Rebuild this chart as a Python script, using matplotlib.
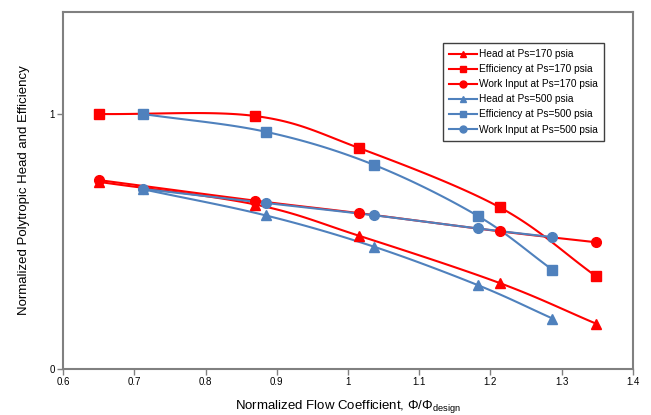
import numpy as np
import matplotlib
matplotlib.use('Agg')
from matplotlib import pyplot as plt

plt.rcParams['font.family'] = ['Liberation Sans', 'DejaVu Sans']
plt.rcParams['mathtext.fontset'] = 'custom'
plt.rcParams['mathtext.rm'] = 'Liberation Sans'
plt.rcParams['mathtext.it'] = 'Liberation Sans'

## DATA
# flow coefficient points for each suction pressure
flow_170 = [0.65, 0.87, 1.016, 1.213, 1.348]
flow_500 = [0.712, 0.885, 1.036, 1.183, 1.287]

head_170 = [0.734, 0.645, 0.522, 0.337, 0.178]
eff_170 = [1.0, 0.992, 0.866, 0.634, 0.364]
work_170 = [0.741, 0.660, 0.611, 0.540, 0.497]

head_500 = [0.705, 0.602, 0.480, 0.328, 0.198]
eff_500 = [1.0, 0.930, 0.801, 0.599, 0.389]
work_500 = [0.706, 0.651, 0.603, 0.551, 0.517]

RED = '#FF0000'
BLUE = '#4F81BD'


def smooth(x, y, n=30):
    """ Catmull-Rom curve through the points, like the smoothed lines of a spreadsheet chart. """
    x = np.asarray(x, float)
    y = np.asarray(y, float)
    # scale to the axes so the curve is not bent by the unit ratio
    px = (x - 0.6) / 0.8
    py = y / 1.4
    pts = np.column_stack([px, py])
    pts = np.vstack([pts[0] * 2 - pts[1], pts, pts[-1] * 2 - pts[-2]])
    out = []
    t = np.linspace(0, 1, n)[:, None]
    for i in range(1, len(pts) - 2):
        p0, p1, p2, p3 = pts[i - 1], pts[i], pts[i + 1], pts[i + 2]
        seg = 0.5 * ((2 * p1) + (-p0 + p2) * t + (2 * p0 - 5 * p1 + 4 * p2 - p3) * t ** 2
                     + (-p0 + 3 * p1 - 3 * p2 + p3) * t ** 3)
        out.append(seg if i == 1 else seg[1:])
    out = np.vstack(out)
    return out[:, 0] * 0.8 + 0.6, out[:, 1] * 1.4


fig = plt.figure(figsize=(6.51, 4.15), dpi=100)
ax = fig.add_axes([63 / 651, 46 / 415, 570 / 651, 357 / 415])

series = [
    (flow_170, head_170, RED, '^', 'Head at Ps=170 psia'),
    (flow_170, eff_170, RED, 's', 'Efficiency at Ps=170 psia'),
    (flow_170, work_170, RED, 'o', 'Work Input at Ps=170 psia'),
    (flow_500, head_500, BLUE, '^', 'Head at Ps=500 psia'),
    (flow_500, eff_500, BLUE, 's', 'Efficiency at Ps=500 psia'),
    (flow_500, work_500, BLUE, 'o', 'Work Input at Ps=500 psia'),
]

handles = []
for x, y, color, marker, label in series:
    sx, sy = smooth(x, y)
    ax.plot(sx, sy, color=color, lw=1.5, zorder=2)
    ax.plot(x, y, color=color, marker=marker, ms=7, ls='none', zorder=3)
    h, = ax.plot([], [], color=color, lw=1.5, marker=marker, ms=5, label=label)
    handles.append(h)

ax.set_xlim(0.6, 1.4)
ax.set_ylim(0, 1.4)
ax.set_xticks(np.arange(0.6, 1.41, 0.1))
ax.set_xticklabels(['0.6', '0.7', '0.8', '0.9', '1', '1.1', '1.2', '1.3', '1.4'])
ax.set_yticks([0, 1])
ax.set_yticklabels(['0', '1'])
ax.tick_params(direction='out', length=4, width=1, color='#808080', labelsize=7, pad=2)

for s in ax.spines.values():
    s.set_color('#808080')
    s.set_linewidth(1.5)

ax.set_xlabel(r'Normalized Flow Coefficient, $\Phi/\Phi_{\rm design}$', fontsize=9.5, labelpad=8)
ax.set_ylabel('Normalized Polytropic Head and Efficiency', fontsize=9.5, labelpad=14)

leg = ax.legend(handles=handles, loc='upper right', bbox_to_anchor=(0.958, 0.927),
                fontsize=7.3, handlelength=2.8, handletextpad=0.2, labelspacing=0.5,
                borderpad=0.6, fancybox=False, framealpha=1)
leg.get_frame().set_edgecolor('#404040')
leg.get_frame().set_linewidth(1)

plt.savefig('out.png', dpi=100)
